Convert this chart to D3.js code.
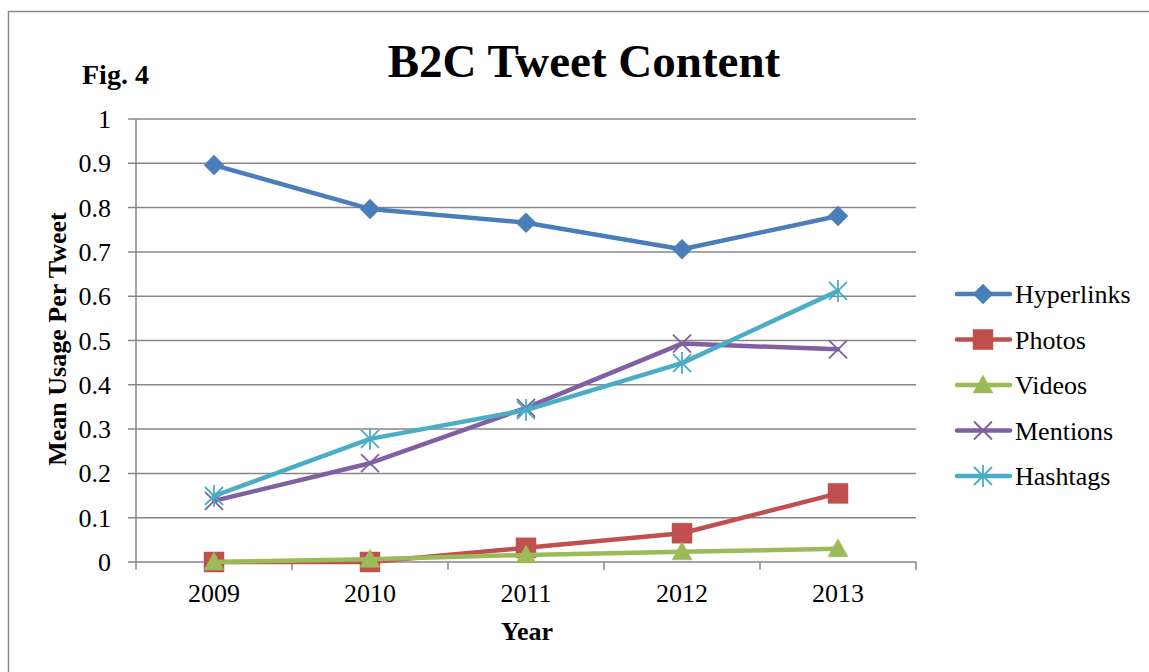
<!DOCTYPE html>
<html>
<head>
<meta charset="utf-8">
<script src="https://cdn.jsdelivr.net/npm/d3@7"></script>
<style>
  body { margin: 0; background: #fff; }
  svg text { font-family: "Liberation Serif", "Times New Roman", Times, "DejaVu Serif", serif; fill: #000; }
</style>
</head>
<body>
<div class="content"></div>
<script>
var width = 1149
var height = 672

// data
var years = ['2009', '2010', '2011', '2012', '2013']
var hyperlinks = [0.896, 0.797, 0.766, 0.706, 0.781]
var photos = [0, 0, 0.032, 0.065, 0.155]
var videos = [0, 0.006, 0.016, 0.023, 0.03]
var mentions = [0.138, 0.223, 0.348, 0.493, 0.48]
var hashtags = [0.149, 0.278, 0.343, 0.449, 0.612]
var yTicks = [0, 0.1, 0.2, 0.3, 0.4, 0.5, 0.6, 0.7, 0.8, 0.9, 1]

var series = [
    { name: 'Hyperlinks', values: hyperlinks, color: '#4a7ebb', marker: 'diamond' },
    { name: 'Photos', values: photos, color: '#c0504d', marker: 'square' },
    { name: 'Videos', values: videos, color: '#9bbb59', marker: 'triangle' },
    { name: 'Mentions', values: mentions, color: '#7f60a0', marker: 'cross' },
    { name: 'Hashtags', values: hashtags, color: '#4bacc6', marker: 'star' }
]

var x = d3.scaleBand()
    .domain(years)
    .range([136, 916])

var y = d3.scaleLinear()
    .domain([0, 1])
    .range([562, 119])

var svg = d3.select('.content').append('svg')
    .attr('width', width)
    .attr('height', height)

// outer frame (only top and left edges are visible in the picture)
svg.append('rect')
    .attr('x', 8.5)
    .attr('y', 11.5)
    .attr('width', 1200)
    .attr('height', 700)
    .style('fill', 'none')
    .style('stroke', '#8a8a8a')
    .style('stroke-width', 1.5)

// gridlines
svg.append('g')
    .selectAll('line')
    .data(yTicks)
    .enter().append('line')
    .attr('x1', 128)
    .attr('x2', 916)
    .attr('y1', function(d) { return y(d) })
    .attr('y2', function(d) { return y(d) })
    .style('stroke', '#878787')
    .style('stroke-width', 1.5)

// y axis line
svg.append('line')
    .attr('x1', 136).attr('x2', 136)
    .attr('y1', y(1)).attr('y2', y(0))
    .style('stroke', '#878787')
    .style('stroke-width', 1.5)

// x axis tick marks at category edges
var edges = years.map(function(d) { return x(d) }).concat([x.range()[1]])
svg.append('g')
    .selectAll('line')
    .data(edges)
    .enter().append('line')
    .attr('x1', function(d) { return d })
    .attr('x2', function(d) { return d })
    .attr('y1', y(0))
    .attr('y2', y(0) + 8)
    .style('stroke', '#878787')
    .style('stroke-width', 1.5)

// y tick labels
svg.append('g')
    .selectAll('text')
    .data(yTicks)
    .enter().append('text')
    .attr('x', 111)
    .attr('y', function(d) { return y(d) + 9 })
    .attr('text-anchor', 'end')
    .style('font-size', '26px')
    .text(function(d) { return d3.format('~g')(d) })

// x tick labels
svg.append('g')
    .selectAll('text')
    .data(years)
    .enter().append('text')
    .attr('x', function(d) { return x(d) + x.bandwidth() / 2 })
    .attr('y', 602)
    .attr('text-anchor', 'middle')
    .style('font-size', '26px')
    .text(function(d) { return d })

// titles
svg.append('text')
    .attr('x', 584)
    .attr('y', 77)
    .attr('text-anchor', 'middle')
    .style('font-size', '47px')
    .style('font-weight', 'bold')
    .text('B2C Tweet Content')

svg.append('text')
    .attr('x', 82)
    .attr('y', 84)
    .style('font-size', '28px')
    .style('font-weight', 'bold')
    .text('Fig. 4')

svg.append('text')
    .attr('transform', 'translate(66,339) rotate(-90)')
    .attr('text-anchor', 'middle')
    .style('font-size', '26px')
    .style('font-weight', 'bold')
    .text('Mean Usage Per Tweet')

svg.append('text')
    .attr('x', 527)
    .attr('y', 640)
    .attr('text-anchor', 'middle')
    .style('font-size', '26px')
    .style('font-weight', 'bold')
    .text('Year')

function markerPath(type) {
    if (type === 'diamond') return 'M0,-10L10,0L0,10L-10,0Z'
    if (type === 'square') return 'M-10,-10H10V10H-10Z'
    if (type === 'triangle') return 'M0,-10L10,8H-10Z'
    if (type === 'cross') return 'M-9,-9L9,9M-9,9L9,-9'
    return 'M-9,-9L9,9M-9,9L9,-9M0,-11V11'
}

function drawMarker(sel, s) {
    var filled = s.marker === 'diamond' || s.marker === 'square' || s.marker === 'triangle'
    sel.append('path')
        .attr('d', markerPath(s.marker))
        .style('fill', filled ? s.color : 'none')
        .style('stroke', s.color)
        .style('stroke-width', filled ? 0.5 : 1.8)
}

var line = d3.line()
    .x(function(d, i) { return x(years[i]) + x.bandwidth() / 2 })
    .y(function(d) { return y(d) })

var groups = svg.append('g')
    .selectAll('g')
    .data(series)
    .enter().append('g')

groups.append('path')
    .attr('d', function(d) { return line(d.values) })
    .style('fill', 'none')
    .style('stroke', function(d) { return d.color })
    .style('stroke-width', 4.5)
    .style('stroke-linejoin', 'round')
    .style('stroke-linecap', 'round')

groups.each(function(s) {
    var g = d3.select(this)
    s.values.forEach(function(v, i) {
        var m = g.append('g')
            .attr('transform', 'translate(' + (x(years[i]) + x.bandwidth() / 2) + ',' + y(v) + ')')
        drawMarker(m, s)
    })
})

// legend
var legend = svg.append('g')
    .selectAll('g')
    .data(series)
    .enter().append('g')
    .attr('transform', function(d, i) { return 'translate(0,' + (294 + i * 45.5) + ')' })

legend.append('line')
    .attr('x1', 957)
    .attr('x2', 1010)
    .style('stroke', function(d) { return d.color })
    .style('stroke-width', 4.5)
    .style('stroke-linecap', 'round')

legend.each(function(s) {
    var m = d3.select(this).append('g').attr('transform', 'translate(983,0)')
    drawMarker(m, s)
})

legend.append('text')
    .attr('x', 1015)
    .attr('y', 9)
    .style('font-size', '26px')
    .text(function(d) { return d.name })
</script>
</body>
</html>
